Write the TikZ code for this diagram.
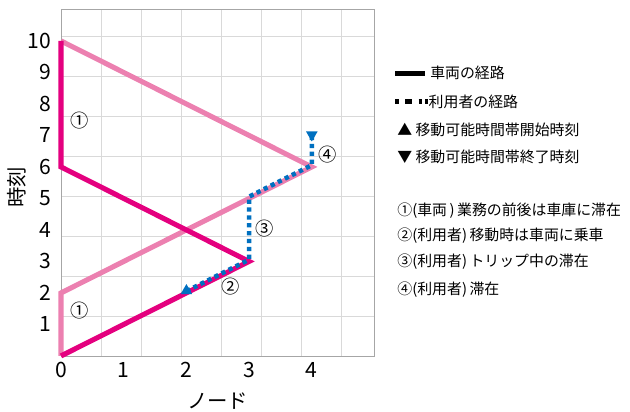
\documentclass[tikz,border=0pt]{standalone}
\usepackage{fontspec}
\setmainfont{Noto Sans CJK JP}
\usetikzlibrary{shapes.geometric, calc, positioning}

\definecolor{carA}{RGB}{228,0,127}
\definecolor{carB}{RGB}{236,128,176}
\definecolor{userblue}{RGB}{0,112,192}

\begin{document}
\begin{tikzpicture}[x=1.5675cm, y=0.7875cm, font=\fontsize{15}{17}\selectfont]

\useasboundingbox (-0.973,-1.778) rectangle (9.075,11.30);

\tikzset{
  carline/.style={line width=3.6pt, line join=miter},
  userline/.style={userblue, line width=3.2pt, dash pattern=on 3pt off 2.6pt},
  tri/.style={regular polygon, regular polygon sides=3, fill=userblue, inner sep=0pt, minimum size=9.5pt},
  lbl/.style={font=\fontsize{13}{15}\selectfont},
  legtext/.style={font=\fontsize{10.6}{12}\selectfont, anchor=west, inner sep=0pt}
}

% Grid and frame
\draw[gray!30, thin] (0,0) grid (5,11);
\draw[gray!70, thin] (0,0) rectangle (5,11);

% Tick labels
\foreach \x in {0,...,4} {
    \node[below] (xt\x) at (\x,-0.05) {\x};
}
\foreach \y in {1,...,10} {
    \node[left] (yt\y) at (-0.08,\y) {\y};
}
\node[font=\fontsize{14.5}{16}\selectfont] (xlabel) at (2.5,-1.42) {ノード};
\node[rotate=90, font=\fontsize{14.5}{16}\selectfont] (ylabel) at (-0.71,5.35) {時刻};

% Vehicle routes
\draw[carB, carline] (0,0) -- (0,2) -- (4,6) -- (0,10);
\draw[carA, carline] (0,0) -- (3,3) -- (0,6) -- (0,10);

% User route
\draw[userline, yshift=1.3pt] (2,2) -- (3,3) -- (3,5) -- (4,6) -- (4,7);
\node[tri] (tstart) at (2,2.07) {};
\node[tri, shape border rotate=180] (tend) at (4,7.02) {};

% Circled labels
\node[lbl] (c1a) at (0.3,7.46) {①};
\node[lbl] (c1b) at (0.3,1.43) {①};
\node[lbl] (c2) at (2.7,2.2) {②};
\node[lbl] (c3) at (3.25,4.03) {③};
\node[lbl] (c4) at (4.26,6.38) {④};

% Legend
\draw[line width=3.6pt] (5.33,8.98) -- (5.81,8.98);
\node[legtext] (leg1) at (5.885,8.98) {車両の経路};
\draw[line width=3.6pt, dash pattern=on 2.4pt off 4.6pt on 5pt off 4.6pt on 2.4pt] (5.33,8.08) -- (5.86,8.08);
\node[legtext] (leg2) at (5.86,8.08) {利用者の経路};
\node[legtext] (leg3) at (5.36,7.18) {▲ 移動可能時間帯開始時刻};
\node[legtext] (leg4) at (5.36,6.33) {▼ 移動可能時間帯終了時刻};

\node[legtext] (note1) at (5.36,4.60) {①(車両\,)\,業務の前後は車庫に滞在};
\node[legtext] (note2) at (5.36,3.82) {②(利用者)\,移動時は車両に乗車};
\node[legtext] (note3) at (5.36,2.98) {③(利用者)\,トリップ中の滞在};
\node[legtext] (note4) at (5.36,2.12) {④(利用者)\,滞在};

\end{tikzpicture}
\end{document}
